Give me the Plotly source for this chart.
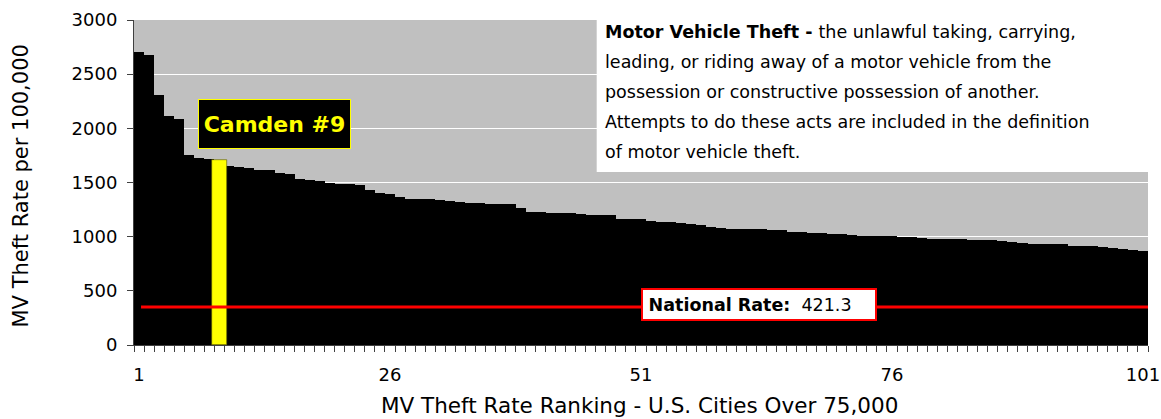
import plotly.graph_objects as go

# ---- data ----
ranks = list(range(1, 102))
rates = [2705, 2677, 2311, 2117, 2086, 1754, 1726, 1717, 1704, 1655,
         1639, 1630, 1618, 1612, 1588, 1581, 1535, 1526, 1517, 1495,
         1489, 1483, 1477, 1431, 1406, 1397, 1366, 1350, 1348, 1344,
         1335, 1329, 1316, 1311, 1310, 1304, 1304, 1304, 1264, 1227,
         1227, 1221, 1221, 1218, 1209, 1203, 1203, 1200, 1163, 1163,
         1160, 1147, 1138, 1132, 1126, 1113, 1104, 1089, 1080, 1074,
         1074, 1071, 1071, 1064, 1058, 1046, 1043, 1034, 1034, 1025,
         1021, 1012, 1009, 1009, 1003, 1003, 1000, 997, 984, 981,
         981, 978, 975, 972, 969, 966, 960, 947, 942, 935,
         932, 932, 932, 917, 914, 910, 907, 898, 882, 873,
         864]
camden_rank = [9]
camden_rate = [1704]
camden_label = "Camden #9"
national_line_value = 350
national_label = "421.3"
x_tick_vals = [1, 26, 51, 76, 101]
x_tick_text = ["1", "26", "51", "76", "101"]
y_tick_vals = [0, 500, 1000, 1500, 2000, 2500, 3000]
definition_lines = [
    "<b>Motor Vehicle Theft - </b>the unlawful taking, carrying,",
    "leading, or riding away of a motor vehicle from the",
    "possession or constructive possession of another.",
    "Attempts to do these acts are included in the definition",
    "of motor vehicle theft.",
]

FONT = "DejaVu Sans"
W, H = 1161, 419
L, R, T, B = 134, 13, 20, 74
PW, PH = W - L - R, H - T - B


def px(x):
    return (x - L) / PW


def py(y):
    return (H - B - y) / PH


fig = go.Figure()
fig.add_trace(go.Bar(x=ranks, y=rates, width=1.0,
                     marker=dict(color="black", line=dict(width=0)),
                     hoverinfo="x+y", showlegend=False))
fig.add_trace(go.Bar(x=camden_rank, y=camden_rate, width=1.43,
                     marker=dict(color="#FFFF00", line=dict(width=0.6, color="#555500")),
                     showlegend=False))

shapes = [
    dict(type="rect", xref="paper", yref="paper", x0=px(596.7), x1=1.0,
         y0=py(172), y1=1.0, fillcolor="white", line=dict(width=0), layer="above"),
    dict(type="line", xref="x", yref="y", x0=1.2, x1=101.55,
         y0=national_line_value, y1=national_line_value,
         line=dict(color="#FF0000", width=3), layer="above"),
]

annotations = []
line_y = [31.7, 61.7, 91.7, 121.7, 151.7]
for txt, yy in zip(definition_lines, line_y):
    annotations.append(dict(xref="paper", yref="paper", x=px(603), y=py(yy),
                            xanchor="left", yanchor="middle", showarrow=False,
                            text=txt, font=dict(family=FONT, size=17.5, color="black")))

annotations.append(dict(xref="paper", yref="paper", x=px(274.3), y=py(124),
                        xanchor="center", yanchor="middle", showarrow=False,
                        text="<b>" + camden_label + "</b>",
                        font=dict(family=FONT, size=22, color="#FFFF00"),
                        bgcolor="black", bordercolor="#FFFF00", borderwidth=1,
                        borderpad=0, width=151, height=48))

annotations.append(dict(xref="paper", yref="paper", x=px(759), y=py(304.4),
                        xanchor="center", yanchor="middle", showarrow=False,
                        text="\u00a0<b>National Rate:</b>\u00a0\u00a0" + national_label,
                        align="left",
                        font=dict(family=FONT, size=17.5, color="black"),
                        bgcolor="white", bordercolor="#FF0000", borderwidth=2,
                        borderpad=0, width=232, height=29))

annotations.append(dict(xref="paper", yref="paper", x=px(20.5), y=py(186),
                        xanchor="center", yanchor="middle", showarrow=False,
                        textangle=-90, text="MV Theft Rate per 100,000",
                        font=dict(family=FONT, size=21, color="black")))
annotations.append(dict(xref="paper", yref="paper", x=px(639), y=py(405),
                        xanchor="center", yanchor="middle", showarrow=False,
                        text="MV Theft Rate Ranking - U.S. Cities Over 75,000",
                        font=dict(family=FONT, size=21.5, color="black")))

fig.update_layout(
    width=W, height=H, autosize=False,
    margin=dict(l=L, r=R, t=T, b=B, pad=0, autoexpand=False),
    paper_bgcolor="white", plot_bgcolor="#C0C0C0",
    barmode="overlay", bargap=0,
    shapes=shapes, annotations=annotations,
    font=dict(family=FONT, color="black"),
    showlegend=False,
)
fig.update_xaxes(range=[0.5, 101.5], tickmode="array", tickvals=x_tick_vals,
                 ticktext=x_tick_text, ticks="", showgrid=False, zeroline=False,
                 automargin=False,
                 showline=True, linecolor="#404040", linewidth=1,
                 tickfont=dict(family=FONT, size=18, color="black"),
                 ticklabelstandoff=13,
                 minor=dict(ticks="outside", tick0=0.5, dtick=1, ticklen=6,
                            tickcolor="#404040", tickwidth=1, showgrid=False))
fig.update_yaxes(range=[0, 3000], tickmode="array", tickvals=y_tick_vals,
                 ticks="outside", ticklen=6, tickcolor="#404040",
                 automargin=False,
                 showgrid=True, gridcolor="white", gridwidth=1, zeroline=False,
                 showline=True, linecolor="#404040", linewidth=1,
                 tickfont=dict(family=FONT, size=18, color="black"),
                 ticklabelstandoff=6)

fig.write_html("out.html", config={"displayModeBar": False},
               post_script="document.body.style.margin='0';document.body.style.overflow='hidden';")
